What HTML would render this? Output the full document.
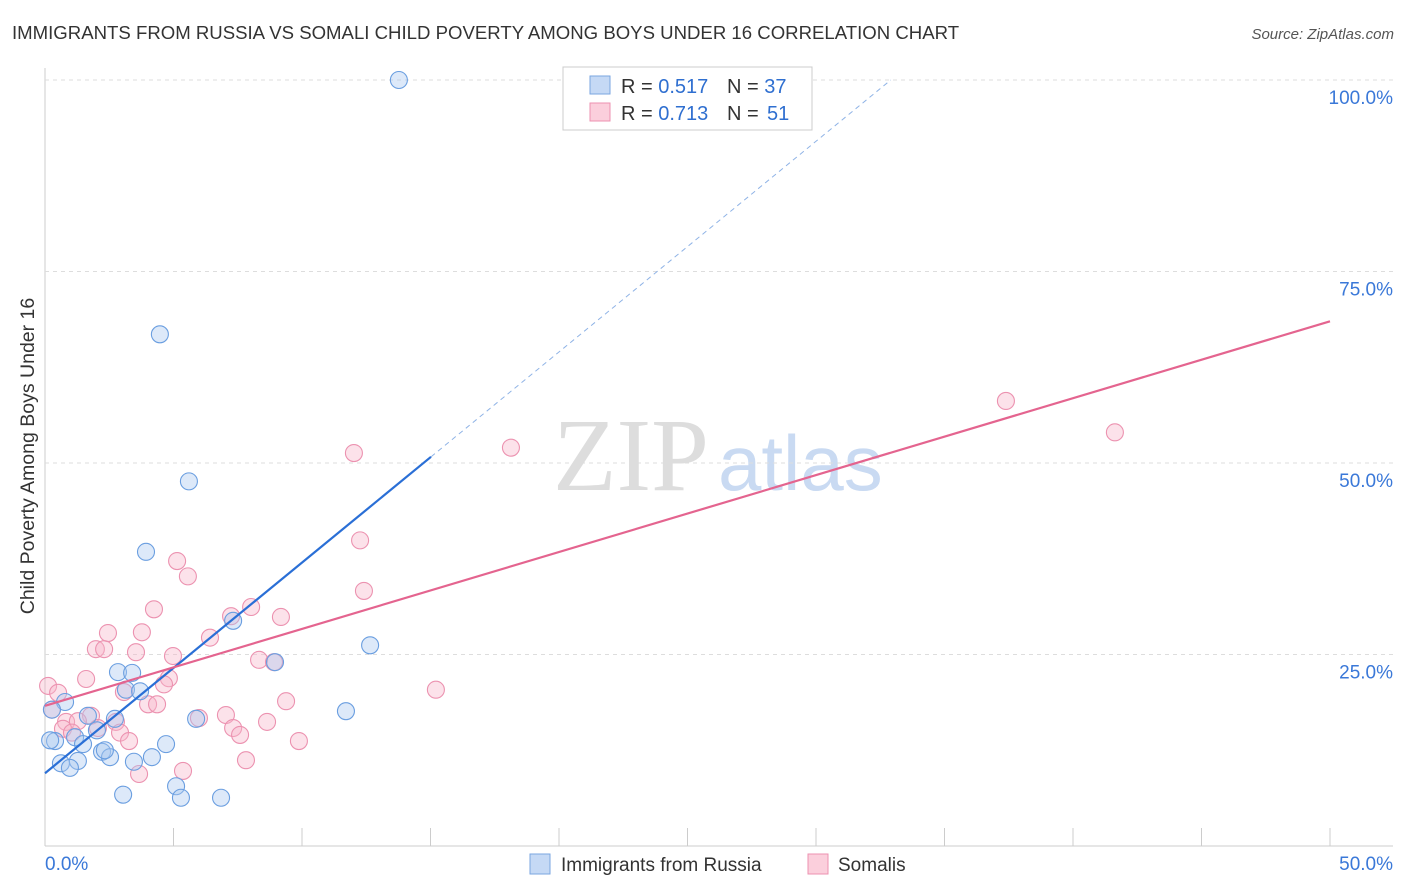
<!DOCTYPE html>
<html><head><meta charset="utf-8">
<style>
body{margin:0;background:#fff;font-family:"Liberation Sans",sans-serif;}
#wrap{position:relative;width:1406px;height:892px;overflow:hidden;}
</style></head>
<body><div id="wrap">
<svg id="svg" width="1406" height="892" xmlns="http://www.w3.org/2000/svg">
<text x="12" y="39" font-size="18.6" fill="#333">IMMIGRANTS FROM RUSSIA VS SOMALI CHILD POVERTY AMONG BOYS UNDER 16 CORRELATION CHART</text>
<text x="1394" y="39" font-size="15" fill="#555" text-anchor="end" font-style="italic">Source: ZipAtlas.com</text>
<text x="553" y="490" font-size="104" fill="#ddd" font-family="Liberation Serif, serif">ZIP</text>
<text x="718" y="490" font-size="78" fill="#c9daf2">atlas</text>
<text x="34" y="456" font-size="19.5" fill="#333" text-anchor="middle" transform="rotate(-90 34 456)">Child Poverty Among Boys Under 16</text>
<g id="grid"></g><g id="pts"></g><g id="lines"></g>
<rect x="563" y="67" width="249" height="63" fill="#fff" stroke="#ccc"/>
<rect x="590" y="76" width="20" height="18" fill="#c5d9f5" stroke="#7aa6e0"/>
<rect x="590" y="103" width="20" height="18" fill="#fbcfdc" stroke="#ec92b0"/>
<text x="621" y="93" font-size="20" fill="#333">R = <tspan fill="#2f6fd0">0.517</tspan></text>
<text x="727" y="93" font-size="20" fill="#333">N = <tspan fill="#2f6fd0">37</tspan></text>
<text x="621" y="120" font-size="20" fill="#333">R = <tspan fill="#2f6fd0">0.713</tspan></text>
<text x="727" y="120" font-size="20" fill="#333">N = <tspan x="767" fill="#2f6fd0">51</tspan></text>
<rect x="530" y="854" width="20" height="20" fill="#c5d9f5" stroke="#7aa6e0"/>
<text x="561" y="871" font-size="19" fill="#333">Immigrants from Russia</text>
<rect x="808" y="854" width="20" height="20" fill="#fbcfdc" stroke="#ec92b0"/>
<text x="838" y="871" font-size="19" fill="#333">Somalis</text>
</svg></div>
<script>
const russiaX=[13.77,4.47,5.60,3.93,7.32,12.65,8.95,2.84,3.39,3.15,3.70,11.71,0.78,2.72,5.88,1.67,2.02,1.17,0.39,1.48,4.71,2.22,2.53,4.16,0.62,1.28,0.97,3.46,3.04,5.10,5.29,6.85,0.27,0.2,2.33];
const russiaY=[100.0,66.8,47.6,38.4,29.4,26.2,24.0,22.7,22.6,20.4,20.2,17.6,18.8,16.6,16.6,17.0,15.1,14.2,13.7,13.3,13.3,12.3,11.6,11.6,10.8,11.1,10.2,11.0,6.7,7.8,6.3,6.3,17.8,13.8,12.5];
const somaliX=[37.39,41.63,18.13,12.02,12.26,5.14,5.56,12.41,4.24,8.02,7.24,9.18,2.45,3.77,6.42,1.98,2.30,3.54,4.98,8.33,8.91,4.82,4.63,1.60,0.12,0.51,3.07,15.21,9.38,4.01,4.36,1.79,0.82,1.28,2.76,5.99,7.04,8.64,2.92,7.32,7.59,0.70,1.05,2.06,3.27,9.88,7.82,5.37,3.66,0.27];
const somaliY=[58.1,54.0,52.0,51.3,39.9,37.2,35.2,33.3,30.9,31.2,30.0,29.9,27.8,27.9,27.2,25.7,25.7,25.3,24.8,24.3,24.0,21.9,21.1,21.8,20.9,20.0,20.1,20.4,18.9,18.5,18.5,17.0,16.2,16.3,16.2,16.7,17.1,16.2,14.8,15.4,14.5,15.3,14.8,15.4,13.7,13.7,11.2,9.8,9.4,17.8];
const yTicks=[25,50,75,100];
const yTickLabels=["25.0%","50.0%","75.0%","100.0%"];
const xTicks=[0,5,10,15,20,25,30,35,40,45,50];
const russiaFit=[9.5,2.75];
const somaliFit=[18.3,1.004];
const NS="http://www.w3.org/2000/svg";
const sx=v=>45+v*1285/50, sy=v=>846-v*7.66;
function mk(tag,attrs,parent){const e=document.createElementNS(NS,tag);for(const k in attrs)e.setAttribute(k,attrs[k]);parent.appendChild(e);return e;}
const grid=document.getElementById('grid'),pts=document.getElementById('pts'),lines=document.getElementById('lines');
let e=mk('line',{x1:45,y1:68,x2:45,y2:846,stroke:'#ccc'},grid);


e=mk('line',{x1:45,y1:846,x2:1393,y2:846,stroke:'#ccc'},grid);


yTicks.forEach((t,i)=>{
 let g=mk('line',{x1:45,y1:sy(t),x2:1393,y2:sy(t),stroke:'#ddd','stroke-dasharray':'4,4'},grid);
 
 
 let l=mk('text',{x:1393,y:sy(t)+24,'font-size':19,fill:'#3a78d8','text-anchor':'end'},grid);l.textContent=yTickLabels[i];
 
 
});
xTicks.forEach(t=>{let k=mk('line',{x1:sx(t),y1:828,x2:sx(t),y2:846,stroke:'#ccc'},grid);
 
 });
let xl=mk('text',{x:45,y:870,'font-size':19,fill:'#3a78d8'},grid);xl.textContent='0.0%';


xl=mk('text',{x:1393,y:870,'font-size':19,fill:'#3a78d8','text-anchor':'end'},grid);xl.textContent='50.0%';


function dots(X,Y,fill,stroke,name){X.forEach((x,i)=>{const c=mk('circle',{cx:sx(x),cy:sy(Y[i]),r:8.5,fill:fill,'fill-opacity':0.4,stroke:stroke,'stroke-width':1.1},pts);
 
 });}
dots(somaliX,somaliY,'#f7b6ca','#ec92b0','somali-point');
dots(russiaX,russiaY,'#a9c7f0','#6a9ee0','russia-point');
const rEnd=15.02, rDash=(100-russiaFit[0])/russiaFit[1];
let ln=mk('line',{x1:sx(0),y1:sy(russiaFit[0]),x2:sx(rEnd),y2:sy(russiaFit[0]+russiaFit[1]*rEnd),stroke:'#2a6fd6','stroke-width':2.2},lines);


ln=mk('line',{x1:sx(rEnd),y1:sy(russiaFit[0]+russiaFit[1]*rEnd),x2:sx(rDash),y2:sy(100),stroke:'#8fb3e6','stroke-width':1,'stroke-dasharray':'5,4'},lines);


ln=mk('line',{x1:sx(0),y1:sy(somaliFit[0]),x2:sx(50),y2:sy(somaliFit[0]+somaliFit[1]*50),stroke:'#e4648f','stroke-width':2.2},lines);


</script></body></html>
